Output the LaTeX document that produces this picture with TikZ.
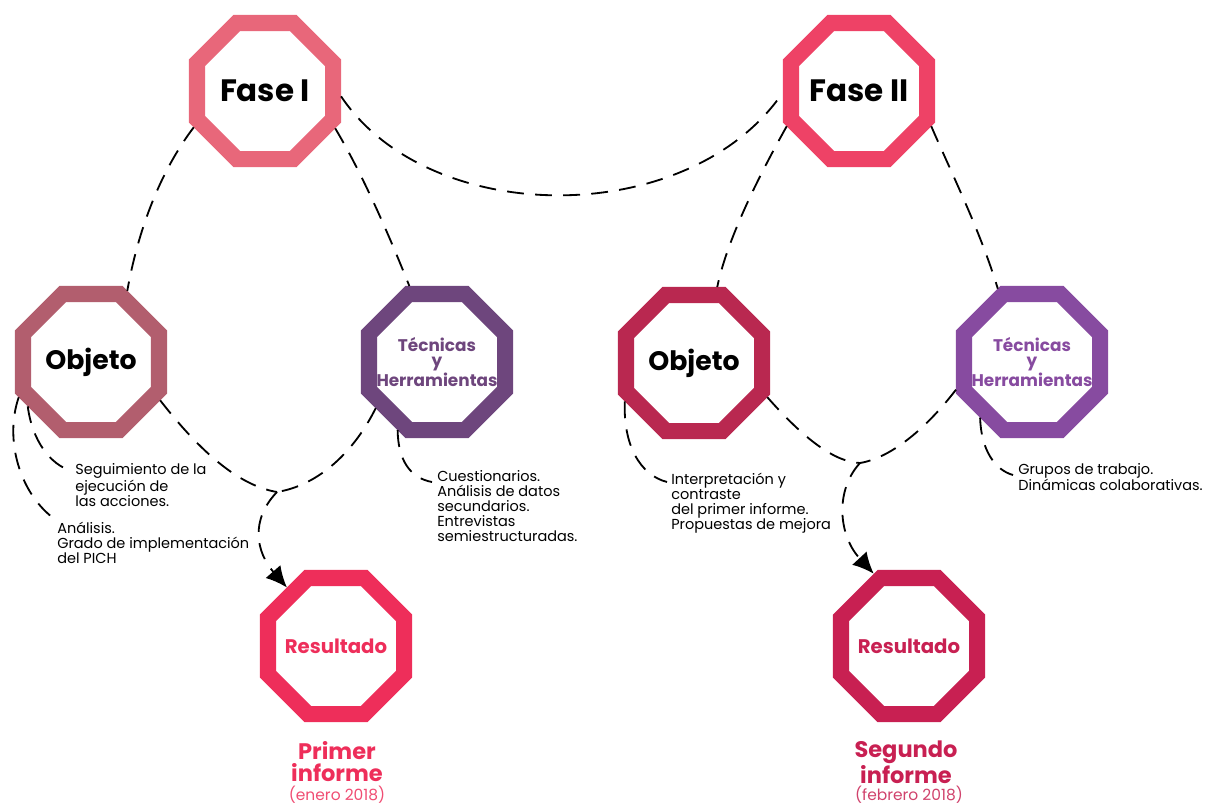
\documentclass[tikz,border=0pt]{standalone}
\usepackage{fontspec}
\setmainfont{Poppins}
\usetikzlibrary{shapes,arrows.meta,calc}

\definecolor{faseA}{HTML}{E8677A}
\definecolor{faseB}{HTML}{EE4266}
\definecolor{objA}{HTML}{B25E6E}
\definecolor{objB}{HTML}{B92850}
\definecolor{tecA}{HTML}{6E467D}
\definecolor{tecB}{HTML}{874BA0}
\definecolor{resA}{HTML}{EE2E5A}
\definecolor{resB}{HTML}{C82052}

\begin{document}
\begin{tikzpicture}[x=0.025cm,y=-0.025cm,
        octo/.style={regular polygon,regular polygon sides=8,minimum size=3.68cm,inner sep=0pt,draw=#1,line width=11.4pt,fill=white},
        titulo/.style={font=\bfseries\fontsize{22}{24}\selectfont,inner sep=0pt},
        objeto/.style={font=\bfseries\fontsize{19}{21}\selectfont,inner sep=0pt},
        tecnicas/.style={font=\bfseries\fontsize{12}{10.7}\selectfont,align=center,text=#1,inner sep=0pt},
        resultado/.style={font=\bfseries\fontsize{14}{16}\selectfont,text=#1,inner sep=0pt},
        texto/.style={font=\fontsize{10.3}{10.7}\selectfont,align=left,inner sep=0pt,anchor=north west},
        informe/.style={font=\bfseries\fontsize{16}{15.6}\selectfont,align=center,text=#1,inner sep=0pt,anchor=north},
        fecha/.style={font=\fontsize{11}{12}\selectfont,text=#1,inner sep=0pt,anchor=base},
        conector/.style={draw=black,line width=1.3pt,dash pattern=on 12pt off 8pt},
        flecha/.style={conector,-{Latex[length=15pt,width=14pt]}}
    ]
    \useasboundingbox (0,0) rectangle (1205,805);

    % Fase I
    \node[octo=faseA] (faseI) at (265,91) {};
    \node[titulo] (faseItxt) at (faseI) {Fase I};
    \node[octo=objA] (objI) at (91,362) {};
    \node[objeto] (objItxt) at (objI) {Objeto};
    \node[octo=tecA] (tecI) at (437,362) {};
    \node[tecnicas=tecA] (tecItxt) at (tecI) {Técnicas\\y\\Herramientas};
    \node[octo=resA] (resI) at (336,646) {};
    \node[resultado=resA] (resItxt) at (resI) {Resultado};

    % Fase II
    \node[octo=faseB] (faseII) at (859,91) {};
    \node[titulo] (faseIItxt) at (faseII) {Fase II};
    \node[octo=objB] (objII) at (694,363) {};
    \node[objeto] (objIItxt) at (objII) {Objeto};
    \node[octo=tecB] (tecII) at (1032,362) {};
    \node[tecnicas=tecB] (tecIItxt) at (tecII) {Técnicas\\y\\Herramientas};
    \node[octo=resB] (resII) at (909,646) {};
    \node[resultado=resB] (resIItxt) at (resII) {Resultado};

    % Descriptions
    \node[texto] (seg) at (75,463) {Seguimiento de la\\ejecución de\\las acciones.};
    \node[texto] (ana) at (57,522) {Análisis.\\Grado de implementación\\del PICH};
    \node[texto] (cues) at (437,470) {Cuestionarios.\\Análisis de datos\\secundarios.\\Entrevistas\\semiestructuradas.};
    \node[texto] (interp) at (671,473) {Interpretación y\\contraste\\del primer informe.\\Propuestas de mejora};
    \node[texto] (grupos) at (1018,463) {Grupos de trabajo.\\Dinámicas colaborativas.};

    % Reports
    \node[informe=resA] (infI) at (337,741) {Primer\\informe};
    \node[fecha=resA!85] (fechaI) at (337,800) {(enero 2018)};
    \node[informe=resB] (infII) at (906,741) {Segundo\\informe};
    \node[fecha=resB!85] (fechaII) at (909,800) {(febrero 2018)};

    \coordinate (unionI) at (277,492);
    \coordinate (unionII) at (860,463);

    % Connectors from the phases
    \draw[conector] (faseI.207) .. controls (165,165) and (140,220) .. (objI.63);
    \draw[conector] (faseI.332) .. controls (360,170) and (385,225) .. (tecI.110);
    \draw[conector] (faseI.356) .. controls (430,229) and (690,229) .. (faseII.181);
    \draw[conector] (faseII.206) .. controls (765,165) and (728,235) .. (objII.73);
    \draw[conector] (faseII.334) .. controls (950,170) and (980,230) .. (tecII.115);

    % Towards the results
    \draw[conector] (objI.331) .. controls (195,445) and (235,485) .. (unionI);
    \draw[conector] (tecI.217) .. controls (355,450) and (320,485) .. (unionI);
    \draw[flecha] (unionI) .. controls (250,520) and (256,552) .. (resI.130);
    \draw[conector] (objII.335) .. controls (805,440) and (835,462) .. (unionII);
    \draw[conector] (tecII.200) .. controls (925,430) and (890,458) .. (unionII);
    \draw[flecha] (unionII) .. controls (835,490) and (838,535) .. (resII.116);

    % Towards the descriptions
    \draw[conector] (objI.215) .. controls (32,440) and (50,465) .. ($(seg.north west)+(-3,8)$);
    \draw[conector] (objI.206) .. controls (4,440) and (20,495) .. ($(ana.north west)+(-1,-2)$);
    \draw[conector] (tecI.240) .. controls (398,460) and (410,478) .. ($(cues.north west)+(-5,12)$);
    \draw[conector] (objII.209) .. controls (623,445) and (640,475) .. ($(interp.north west)+(-4,9)$);
    \draw[conector] (tecII.227) .. controls (981,450) and (995,470) .. ($(grupos.north west)+(-5,12)$);
\end{tikzpicture}
\end{document}
